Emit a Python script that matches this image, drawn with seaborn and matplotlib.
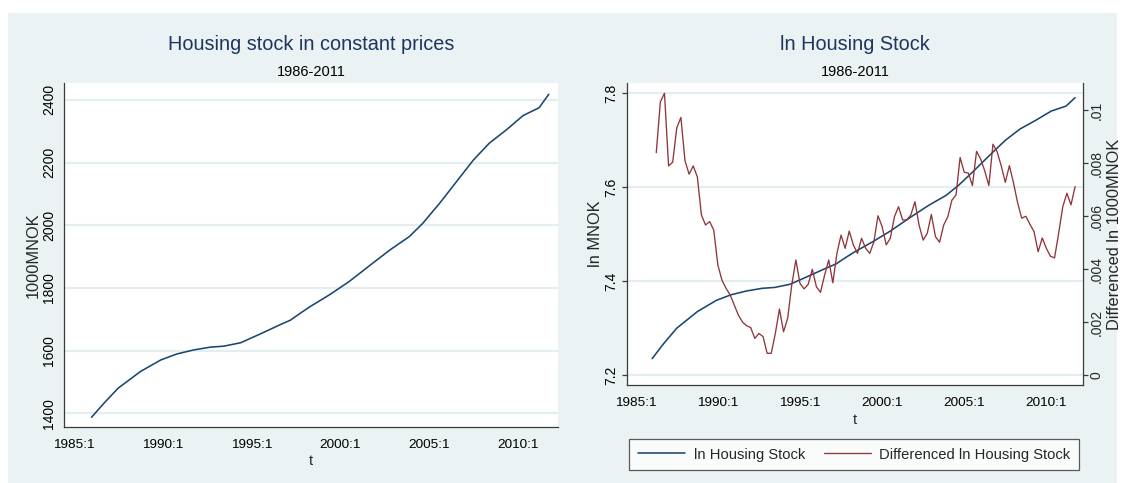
import numpy as np
import pandas as pd
import seaborn as sns
import matplotlib.pyplot as plt
from matplotlib.lines import Line2D
from matplotlib.patches import Rectangle

# housing stock, 1000MNOK (t as fractional year)
level_t = [1986.0, 1986.7, 1987.5, 1988.75, 1989.9, 1990.8, 1991.75, 1992.7,
           1993.45, 1994.4, 1995.5, 1996.6, 1997.2, 1997.75, 1998.3, 1999.4,
           2000.5, 2001.7, 2002.8, 2003.9, 2004.65, 2005.6, 2006.55, 2007.5,
           2008.4, 2009.35, 2010.3, 2011.2, 2011.75]
level_val = [1387, 1432, 1480, 1533, 1570, 1589, 1602, 1611,
             1614, 1625, 1653, 1682, 1697, 1719, 1740, 1778,
             1820, 1873, 1921, 1964, 2006, 2070, 2139, 2208,
             2262, 2304, 2350, 2375, 2418]

# quarterly differenced ln housing stock, 1986:2 .. 2011:4
diff_start = 1986.25
diff_val = [.00839, .01031, .01063, .00789, .00803, .00933, .00972, .00808,
            .00758, .00789, .00748, .00604, .00566, .00579, .00547, .00415,
            .00358, .00327, .00302, .00264, .00226, .00200, .00186, .00179,
            .00138, .00157, .00145, .00082, .00082, .00157, .00249, .00163,
            .00214, .00340, .00434, .00346, .00325, .00342, .00399, .00333,
            .00312, .00377, .00434, .00348, .00459, .00528, .00478, .00543,
            .00491, .00459, .00516, .00478, .00459, .00503, .00601, .00560,
            .00491, .00516, .00597, .00635, .00585, .00585, .00604, .00654,
            .00566, .00509, .00535, .00606, .00522, .00501, .00566, .00597,
            .00660, .00679, .00821, .00765, .00762, .00715, .00844, .00815,
            .00770, .00715, .00871, .00843, .00790, .00727, .00790, .00725,
            .00650, .00592, .00599, .00569, .00541, .00465, .00517, .00478,
            .00448, .00442, .00535, .00635, .00686, .00642, .00711]

year_ticks = [1985, 1990, 1995, 2000, 2005, 2010]
year_labels = ["1985:1", "1990:1", "1995:1", "2000:1", "2005:1", "2010:1"]
level_ticks = [1400, 1600, 1800, 2000, 2200, 2400]
ln_ticks = [7.2, 7.4, 7.6, 7.8]
ln_labels = ["7.2", "7.4", "7.6", "7.8"]
diff_ticks = [0, .002, .004, .006, .008, .01]
diff_labels = ["0", ".002", ".004", ".006", ".008", ".01"]

BG = "#EAF2F3"
GRID = "#E4EDEF"
BLUE = "#1A476F"
RED = "#90353B"
TITLE = "#1E3560"
AXC = "#3a3a3a"

XTICK_FS = 9.7
YTICK_FS = 10
YLAB_FS = 11.8

sns.set_theme(style="white")
plt.rcParams["font.family"] = ["Liberation Sans", "DejaVu Sans"]

level = pd.DataFrame({"t": level_t, "val": level_val})
level["ln"] = np.log(level["val"])
diff = pd.DataFrame({"t": diff_start + 0.25 * np.arange(len(diff_val)), "d": diff_val})

W, H = 1123, 483
fig = plt.figure(figsize=(W / 100, H / 100), dpi=100)
fig.patch.set_facecolor("white")
fig.patches.append(Rectangle((8 / W, 0), 1109 / W, 470 / H, transform=fig.transFigure,
                             facecolor=BG, edgecolor="none", zorder=-10))


def box(x0, y0, x1, y1):
    return [x0 / W, 1 - y1 / H, (x1 - x0) / W, (y1 - y0) / H]


def style(ax):
    ax.set_facecolor("white")
    for s in ["top", "right", "left", "bottom"]:
        ax.spines[s].set_visible(False)
    for s in ["left", "bottom"]:
        ax.spines[s].set_visible(True)
        ax.spines[s].set_color(AXC)
        ax.spines[s].set_linewidth(0.9)
    ax.tick_params(direction="out", length=3.8, width=0.9, color=AXC, labelcolor="black")
    ax.tick_params(axis="x", pad=5, labelsize=XTICK_FS)
    ax.tick_params(axis="y", pad=2, labelsize=YTICK_FS)
    ax.grid(axis="y", color=GRID, lw=1.6)
    ax.set_axisbelow(True)
    ax.set_xlim(1984.45, 2012.25)
    ax.set_xticks(year_ticks, year_labels)
    ax.set_xlabel("t", fontsize=10.5, labelpad=2.5)
    for lab in ax.get_yticklabels():
        lab.set_rotation(90)
        lab.set_va("center")


# left panel
ax1 = fig.add_axes(box(64, 83.3, 557.7, 426.7))
sns.lineplot(data=level, x="t", y="val", ax=ax1, color=BLUE, lw=1.15)
ax1.set_ylim(1357, 2453)
ax1.set_yticks(level_ticks, [str(v) for v in level_ticks])
style(ax1)
ax1.set_ylabel("1000MNOK", fontsize=YLAB_FS)
ax1.yaxis.set_label_coords(-0.048, 0.5)

# right panel with second axis
ax2 = fig.add_axes(box(626.7, 83.3, 1083.3, 385))
sns.lineplot(data=level, x="t", y="ln", ax=ax2, color=BLUE, lw=1.15)
ax2.set_ylim(7.1787, 7.8213)
ax2.set_yticks(ln_ticks, ln_labels)
style(ax2)
ax2.set_ylabel("ln MNOK", fontsize=YLAB_FS)
ax2.yaxis.set_label_coords(-0.051, 0.5)

ax3 = ax2.twinx()
sns.lineplot(data=diff, x="t", y="d", ax=ax3, color=RED, lw=0.95)
ax3.set_ylim(-0.000377, 0.011008)
ax3.set_yticks(diff_ticks, diff_labels)
for s in ["top", "left", "bottom"]:
    ax3.spines[s].set_visible(False)
ax3.spines["right"].set_color(AXC)
ax3.spines["right"].set_linewidth(0.9)
ax3.tick_params(direction="out", length=3.8, width=0.9, color=AXC,
                labelsize=YTICK_FS, pad=0.8)
for lab in ax3.get_yticklabels():
    lab.set_rotation(90)
    lab.set_va("center")
ax3.set_ylabel("Differenced ln 1000MNOK", fontsize=YLAB_FS)
ax3.yaxis.set_label_coords(1.052, 0.5)
ax3.grid(False)

# titles
for cx, title in [((64 + 557.7) / 2, "Housing stock in constant prices"),
                  ((626.7 + 1083.3) / 2, "ln Housing Stock")]:
    fig.text(cx / W, 1 - 45 / H, title, ha="center", va="center",
             fontsize=14.3, color=TITLE)
    fig.text(cx / W, 1 - 71.5 / H, "1986-2011", ha="center", va="center",
             fontsize=10.5, color="black")

handles = [Line2D([], [], color=BLUE, lw=1.15), Line2D([], [], color=RED, lw=0.95)]
leg = fig.legend(handles, ["ln Housing Stock", "Differenced ln Housing Stock"],
                 loc="center", bbox_to_anchor=(854.4 / W, 1 - 454.6 / H), ncol=2,
                 fontsize=10.6, frameon=True, fancybox=False, handlelength=3.2,
                 handletextpad=0.55, columnspacing=1.3, borderpad=0.6,
                 borderaxespad=0)
leg.get_frame().set_edgecolor("#333333")
leg.get_frame().set_linewidth(0.9)
leg.get_frame().set_facecolor("white")

fig.savefig("out.png", dpi=100, facecolor=fig.get_facecolor())
